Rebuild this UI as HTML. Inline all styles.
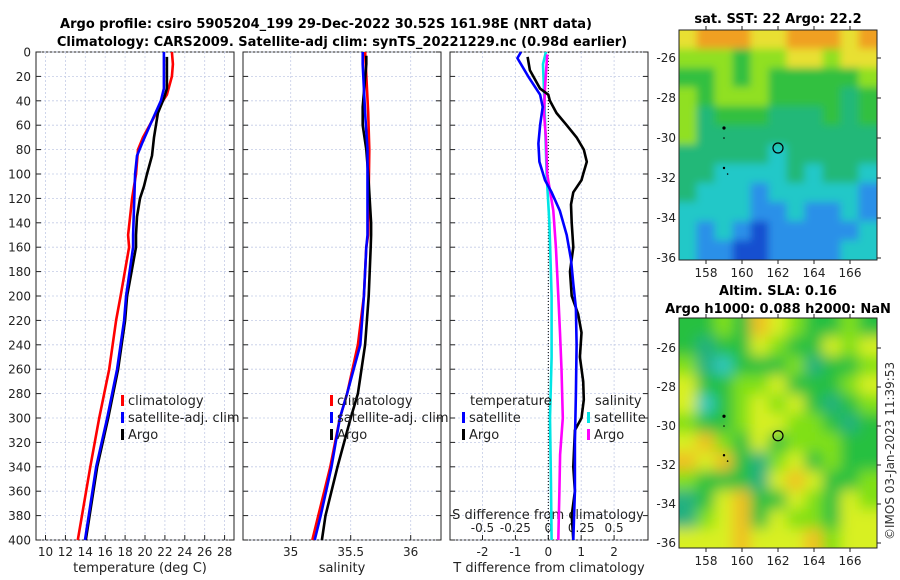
<!DOCTYPE html>
<html><head><meta charset="utf-8"><style>
html,body{margin:0;padding:0;background:#fff;width:900px;height:580px;overflow:hidden}
svg{display:block;font-family:"DejaVu Sans","Liberation Sans",sans-serif}
</style></head><body>
<svg id="chart" width="900" height="580" viewBox="0 0 900 580" xmlns="http://www.w3.org/2000/svg">
<text x="326" y="28" text-anchor="middle" font-size="13" font-weight="bold">Argo profile: csiro 5905204_199 29-Dec-2022 30.52S 161.98E (NRT data)</text>
<text x="342" y="46" text-anchor="middle" font-size="13" font-weight="bold">Climatology: CARS2009. Satellite-adj clim: synTS_20221229.nc (0.98d earlier)</text>
<text x="778" y="23" text-anchor="middle" font-size="13" font-weight="bold">sat. SST: 22 Argo: 22.2</text>
<text x="778" y="295" text-anchor="middle" font-size="13" font-weight="bold">Altim. SLA: 0.16</text>
<text x="778" y="313" text-anchor="middle" font-size="13" font-weight="bold">Argo h1000: 0.088 h2000: NaN</text>
<text transform="translate(894,540) rotate(-90)" font-size="12" fill="#333">©IMOS 03-Jan-2023 11:39:53</text>
<g id="g"></g>
</svg>
<script>
// ---- data ----
const depthTicks=[0,20,40,60,80,100,120,140,160,180,200,220,240,260,280,300,320,340,360,380,400];
const tempTicks=[10,12,14,16,18,20,22,24,26,28];
const salTicks=[35,35.5,36];
const tdiffTicks=[-2,-1,0,1,2];
const sdiffTicks=[-0.5,-0.25,0,0.25,0.5];
const climTDepth=[0,10,20,35,40,55,70,80,100,120,150,160,200,220,260,300,340,400];
const climT=[22.7,22.8,22.7,22.2,21.8,20.8,19.8,19.3,19.1,18.7,18.3,18.4,17.55,17.1,16.4,15.4,14.5,13.25];
const satTDepth=[0,30,40,60,75,85,100,150,160,200,220,260,300,340,400];
const satT=[21.9,21.9,21.6,20.5,19.7,19.2,19.0,18.8,18.8,18.1,17.9,17.2,16.2,15.1,13.97];
const argoTDepth=[4,30,38,50,70,85,100,110,120,135,150,160,200,220,260,300,340,400];
const argoT=[22.2,22.2,21.9,21.3,20.9,20.7,20.2,19.9,19.5,19.2,19.1,19.1,18.2,18.0,17.3,16.3,15.2,14.05];
const climSDepth=[0,50,80,150,160,200,240,280,300,340,380,400];
const climS=[35.62,35.646,35.655,35.645,35.63,35.61,35.56,35.47,35.41,35.33,35.23,35.18];
const satSDepth=[0,10,50,80,100,150,160,200,240,280,300,340,380,400];
const satS=[35.6,35.6,35.62,35.64,35.64,35.64,35.63,35.61,35.58,35.47,35.41,35.34,35.25,35.2];
const argoSDepth=[3,10,45,60,80,100,140,150,160,200,240,280,300,340,380,400];
const argoS=[35.63,35.63,35.6,35.6,35.63,35.646,35.67,35.67,35.667,35.65,35.62,35.56,35.5,35.39,35.29,35.26];
const dSatTDepth=[0,5,20,35,45,60,75,90,105,115,130,150,170,190,210,240,280,320,360,400];
const dSatT=[-0.83,-0.94,-0.61,-0.25,-0.17,-0.25,-0.3,-0.27,-0.1,0.1,0.35,0.56,0.69,0.76,0.84,0.86,0.84,0.81,0.81,0.76];
const dArgoTDepth=[4,15,30,35,40,50,60,70,80,90,100,105,115,125,140,160,180,200,215,230,250,270,285,300,310,340,360,380,400];
const dArgoT=[-0.63,-0.56,-0.25,0,0.05,0.25,0.56,0.86,1.08,1.17,1.06,1.01,0.76,0.69,0.71,0.76,0.66,0.71,0.91,1.01,0.96,1.06,1.08,1.01,0.81,0.76,0.81,0.71,0.76];
const dSatSDepth=[0,10,40,100,140,200,250,300,350,400];
const dSatS=[-0.018,-0.04,-0.03,-0.013,0.008,0.025,0.025,0.013,0.02,0.025];
const dArgoSDepth=[2,30,50,70,100,130,160,200,230,260,300,330,360,400];
const dArgoS=[-0.008,-0.025,-0.033,-0.018,-0.008,0.038,0.058,0.076,0.089,0.1,0.11,0.09,0.084,0.076];
const sstGrid=["yoooyyoooyo","lllgllyylyy","gglglgggggl","lglllggggtg","ltgggtttgtg","ltttttttttt","tttttcttttt","ttcccctcttc","tcccbcccccb","ccccbbcbbcb","cbcbdbbbbbc","cbbddbbbbcc"];
const slaGrid=["gglgoylgglg","gtggylggyly","ltcgggltggl","yggllygggly","ycglylygtgl","lgglyyllgtg","yolgyglllgg","oyogtlyglgg","lgggtyoyggl","tgyoggylgyl","tlyogyllgyy","yyyoyyyolyy"];
const lonTicks=[158,160,162,164,166];
const latTicks=[-26,-28,-30,-32,-34,-36];
// ---- drawing ----
const NS="http://www.w3.org/2000/svg";
const G=document.getElementById('g');
function mk(tag,at,parent){const e=document.createElementNS(NS,tag);for(const k in at)e.setAttribute(k,at[k]);(parent||G).appendChild(e);return e;}
const top0=52,bot0=540;
const yD=d=>top0+(d/400)*(bot0-top0);
const xT=t=>45.5+(t-10)*9.95;
const xS=s=>290.7+(s-35)*120;
const xDT=t=>548.3+t*32.9;
const xDS=s=>548.3+s*131.6;
const panels=[[36,234],[243,441],[450,648]];
panels.forEach((p,i)=>{
  const r=mk('rect',{x:p[0],y:top0,width:p[1]-p[0],height:bot0-top0,fill:'#fff',stroke:'#222','stroke-width':1});
  
  
  depthTicks.forEach(d=>{
    const l=mk('line',{x1:p[0],x2:p[1],y1:yD(d),y2:yD(d),stroke:'#c4cce6','stroke-dasharray':'2,2','stroke-width':0.8});
    
    
    mk('line',{x1:p[0],x2:p[0]+5,y1:yD(d),y2:yD(d),stroke:'#222'});
    mk('line',{x1:p[1]-5,x2:p[1],y1:yD(d),y2:yD(d),stroke:'#222'});
  });
});
depthTicks.forEach(d=>{
  const t=mk('text',{x:31,y:yD(d)+4.5,'text-anchor':'end','font-size':12,fill:'#222'});t.textContent=d;
  
  
});
function xgrid(ticks,fx,p,labels,ly){
  ticks.forEach((v,i)=>{
    const x=fx(v);
    const l=mk('line',{x1:x,x2:x,y1:top0,y2:bot0,stroke:'#c4cce6','stroke-dasharray':'2,2','stroke-width':0.8});
    
    
    mk('line',{x1:x,x2:x,y1:bot0-5,y2:bot0,stroke:'#222'});
    const t=mk('text',{x:x,y:ly,'text-anchor':'middle','font-size':12,fill:'#222'});t.textContent=labels[i];
    
    
  });
}
xgrid(tempTicks,xT,panels[0],tempTicks,556);
xgrid(salTicks,xS,panels[1],salTicks,556);
xgrid(tdiffTicks,xDT,panels[2],tdiffTicks,556);
sdiffTicks.forEach((v,i)=>{const t=mk('text',{x:xDS(v),y:532,'text-anchor':'middle','font-size':12,fill:'#222'});t.textContent=String(v);
  
  });
const lbls=[[140,'temperature (deg C)','x-axis-title-temperature'],[342,'salinity','x-axis-title-salinity'],[549,'T difference from climatology','x-axis-title-tdiff']];
lbls.forEach(a=>{const t=mk('text',{x:a[0],y:572,'text-anchor':'middle','font-size':13,fill:'#222'});t.textContent=a[1];
  
  });
{const t=mk('text',{x:548,y:519,'text-anchor':'middle','font-size':13,fill:'#222'});t.textContent='S difference from climatology';
  
  }
{const l=mk('line',{x1:xDT(0),x2:xDT(0),y1:top0,y2:bot0,stroke:'#000','stroke-dasharray':'1,2','stroke-width':1});
  
  }
function series(ds,vs,fx,col,name){
  const pts=ds.map((d,i)=>fx(vs[i]).toFixed(1)+','+yD(d).toFixed(1)).join(' ');
  const p=mk('polyline',{points:pts,fill:'none',stroke:col,'stroke-width':2.6,'stroke-linejoin':'round'});
  
  
}
series(climTDepth,climT,xT,'#ff0000','climatology-temperature-line');
series(argoTDepth,argoT,xT,'#000','argo-temperature-line');
series(satTDepth,satT,xT,'#0000ff','satellite-temperature-line');
series(climSDepth,climS,xS,'#ff0000','climatology-salinity-line');
series(argoSDepth,argoS,xS,'#000','argo-salinity-line');
series(satSDepth,satS,xS,'#0000ff','satellite-salinity-line');
series(dSatSDepth,dSatS,xDS,'#00e5e5','satellite-sdiff-line');
series(dArgoSDepth,dArgoS,xDS,'#ff00ff','argo-sdiff-line');
series(dArgoTDepth,dArgoT,xDT,'#000','argo-tdiff-line');
series(dSatTDepth,dSatT,xDT,'#0000ff','satellite-tdiff-line');
function leg(x,y,col,txt,name){
  const r=mk('rect',{x:x,y:y-10,width:3,height:11,fill:col});
  
  
  const t=mk('text',{x:x+7,y:y,'font-size':13,fill:'#222'});t.textContent=txt;
  
  
}
[[121,'climatology','#ff0000'],[121,'satellite-adj. clim','#0000ff'],[121,'Argo','#000']].forEach((a,i)=>leg(a[0],405+i*17,a[2],a[1],'legend-t-'+i));
[[330,'climatology','#ff0000'],[330,'satellite-adj. clim','#0000ff'],[330,'Argo','#000']].forEach((a,i)=>leg(a[0],405+i*17,a[2],a[1],'legend-s-'+i));
{const t=mk('text',{x:470,y:405,'font-size':13,fill:'#222'});t.textContent='temperature';
 
 }
{const t=mk('text',{x:595,y:405,'font-size':13,fill:'#222'});t.textContent='salinity';
 
 }
leg(462,422,'#0000ff','satellite','legend-diff-t-sat');
leg(462,439,'#000','Argo','legend-diff-t-argo');
leg(587,422,'#00e5e5','satellite','legend-diff-s-sat');
leg(587,439,'#ff00ff','Argo','legend-diff-s-argo');
const colSST={o:'#f0a020',y:'#e8e030',l:'#90e020',g:'#30c040',t:'#20b878',c:'#20c8c8',b:'#2a90e8',d:'#1850d0'};
const colSLA={o:'#f0c020',y:'#d8f020',l:'#80e018',g:'#28c040',t:'#20b080',c:'#30c8c0'};
function drawMap(grid,cols,x0,y0,w,h,lat26,lat36,name,blur){
  const gEl=mk('g',{});
  
  
  const clip=mk('clipPath',{id:name+'-clip'},gEl);
  mk('rect',{x:x0,y:y0,width:w,height:h},clip);
  const outer=mk('g',{'clip-path':'url(#'+name+'-clip)'},gEl);
  const inner=mk('g',{},outer);
  const f=mk('filter',{id:name+'-blur',x:'-20%',y:'-20%',width:'140%',height:'140%'},gEl);mk('feGaussianBlur',{stdDeviation:blur},f);inner.setAttribute('filter','url(#'+name+'-blur)');
  const nr=grid.length,nc=grid[0].length,cw=w/nc,ch=h/nr;
  const cl=(v,n)=>Math.max(0,Math.min(n-1,v));
  for(let r=-2;r<nr+2;r++)for(let k=-2;k<nc+2;k++){
    const c=grid[cl(r,nr)][cl(k,nc)];
    mk('rect',{x:x0+k*cw-0.5,y:y0+r*ch-0.5,width:cw+1,height:ch+1,fill:cols[c]},inner);
  }
  mk('rect',{x:x0,y:y0,width:w,height:h,fill:'none',stroke:'#222'},gEl);
  const lx=v=>x0+(v-156.5)*(w/11);
  const ly=v=>lat26+(-26-v)*(lat36-lat26)/10;
  lonTicks.forEach(v=>{mk('line',{x1:lx(v),x2:lx(v),y1:y0+h,y2:y0+h+4,stroke:'#222'},gEl);mk('line',{x1:lx(v),x2:lx(v),y1:y0,y2:y0-4,stroke:'#222'},gEl);
    const t=mk('text',{x:lx(v),y:y0+h+17,'text-anchor':'middle','font-size':12,fill:'#222'},gEl);t.textContent=v;
    
    });
  latTicks.forEach(v=>{mk('line',{x1:x0+w,x2:x0+w+4,y1:ly(v),y2:ly(v),stroke:'#222'},gEl);
    const t=mk('text',{x:x0-3,y:ly(v)+4,'text-anchor':'end','font-size':12,fill:'#222'},gEl);t.textContent=v;
    
    });
  const c=mk('circle',{cx:lx(162),cy:ly(-30.5),r:5,fill:'none',stroke:'#000','stroke-width':1.2},gEl);
  
  
  mk('circle',{cx:lx(159),cy:ly(-29.5),r:1.6,fill:'#000'},gEl);
  mk('circle',{cx:lx(159),cy:ly(-30),r:0.8,fill:'#000'},gEl);
  mk('circle',{cx:lx(159),cy:ly(-31.5),r:1.2,fill:'#000'},gEl);
  mk('circle',{cx:lx(159.2),cy:ly(-31.8),r:0.8,fill:'#000'},gEl);
}
drawMap(sstGrid,colSST,679,30,198,230,58,258,'sst-map',4);
drawMap(slaGrid,colSLA,679,318,198,230,348,543,'sla-map',7);
</script>
</body></html>
